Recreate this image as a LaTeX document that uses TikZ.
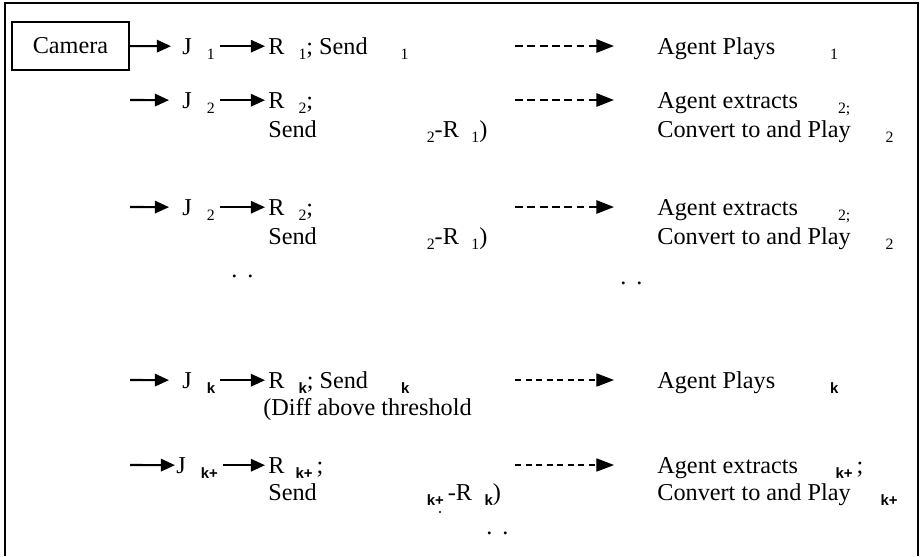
\documentclass[tikz,border=0pt]{standalone}
\usepackage{fontspec}
\setmainfont{Liberation Serif}
\setsansfont{Liberation Sans}
\usetikzlibrary{arrows.meta}
\newcommand{\lo}[1]{\raisebox{-0.45ex}{\fontsize{9}{9}\selectfont #1}}
\newcommand{\lok}[1]{\raisebox{-0.45ex}{\fontsize{8.5}{9}\sffamily\bfseries #1}}

\begin{document}
\begin{tikzpicture}[x=0.02cm, y=-0.02cm, font=\fontsize{13.8}{16}\selectfont]
   \tikzstyle{line} = [draw, line width=1.2pt, -{Triangle[length=8pt,width=7pt]}]
   \tikzstyle{dline} = [draw, line width=1.2pt, dash pattern=on 4.5pt off 2.5pt, -{Triangle[length=10pt,width=7.5pt]}]
   \tikzstyle{tline} = [draw, line width=0.6pt, dash pattern=on 3.5pt off 2.5pt, -{Triangle[length=10pt,width=7.5pt]}]
   \tikzstyle{txt} = [inner sep=0pt, anchor=base west, text height=0.312cm, text depth=0pt]
   \useasboundingbox (0,0) rectangle (922,556);
   \draw [line width=1.2pt] (5,556) -- (5,3) -- (918,3) -- (918,556);

   % first frame
   \node [draw, line width=1.2pt, minimum width=2.34cm, minimum height=0.96cm] (cam) at (70.5,46) {Camera};
   \node [txt] (j1) at (182,54) {J\hspace{0.3cm}\lo{1}};
   \node [txt] (r1) at (268,54) {R\hspace{0.28cm}\lo{1}; Send\hspace{0.66cm}\lo{1}};
   \node [txt] (ag1) at (657,54) {Agent Plays\hspace{1.1cm}\lo{1}};
   \coordinate (d1) at (515,46);

   % second frame
   \coordinate (s2) at (130,100);
   \node [txt] (j2) at (182,108) {J\hspace{0.3cm}\lo{2}};
   \node [txt] (r2) at (268,108) {R\hspace{0.28cm}\lo{2};};
   \node [txt] (r2b) at (268,137) {Send\hspace{2.2cm}\lo{2}-R\hspace{0.25cm}\lo{1})};
   \node [txt] (ag2) at (657,108) {Agent extracts\hspace{0.8cm}\lo{2;}};
   \node [txt] (ag2b) at (657,137) {Convert to and Play\hspace{0.7cm}\lo{2}};
   \coordinate (d2) at (515,100);

   % third frame
   \coordinate (s3) at (130,207);
   \node [txt] (j3) at (182,215) {J\hspace{0.3cm}\lo{2}};
   \node [txt] (r3) at (268,215) {R\hspace{0.28cm}\lo{2};};
   \node [txt] (r3b) at (268,244) {Send\hspace{2.2cm}\lo{2}-R\hspace{0.25cm}\lo{1})};
   \node [txt] (ag3) at (657,215) {Agent extracts\hspace{0.8cm}\lo{2;}};
   \node [txt] (ag3b) at (657,244) {Convert to and Play\hspace{0.7cm}\lo{2}};
   \coordinate (d3) at (515,207);
   \node [txt] (dots1) at (231,277) {.\hspace{0.2cm}.};
   \node [txt] (dots2) at (620,284) {.\hspace{0.2cm}.};

   % k-th frame
   \coordinate (s4) at (130,380);
   \node [txt] (j4) at (182,388) {J\hspace{0.3cm}\lok{k}};
   \node [txt] (r4) at (268,388) {R\hspace{0.28cm}\lok{k}; Send\hspace{0.66cm}\lok{k}};
   \node [txt] (r4b) at (263,415) {(Diff above threshold};
   \node [txt] (ag4) at (657,388) {Agent Plays\hspace{1.1cm}\lok{k}};
   \coordinate (d4) at (515,380);

   % (k+1)-th frame
   \coordinate (s5) at (130,465);
   \node [txt] (j5) at (176,473) {J\hspace{0.3cm}\lok{k+}};
   \node [txt] (r5) at (268,473) {R\hspace{0.22cm}\lok{k+}\,;};
   \node [txt] (r5b) at (268,500) {Send\hspace{2.2cm}\lok{k+}\,-R\hspace{0.25cm}\lok{k})};
   \node [txt] (ag5) at (657,473) {Agent extracts\hspace{0.75cm}\lok{k+}\,;};
   \node [txt] (ag5b) at (657,500) {Convert to and Play\hspace{0.6cm}\lok{k+}};
   \coordinate (d5) at (515,465);
   \fill (440,512) circle (0.6pt);
   \node [txt] (dots3) at (486,534) {.\hspace{0.2cm}.};

   \path [line, shorten >=0.22cm] (cam) -- (j1);
   \path [line, shorten <=0.1cm, shorten >=0.06cm] (j1) -- (r1);
   \path [dline, shorten >=0.86cm] (d1) -- (d1 -| ag1.west);

   \path [line, shorten >=0.26cm] (s2) -- (j2);
   \path [line, shorten <=0.1cm, shorten >=0.06cm] (j2) -- (r2);
   \path [dline, shorten >=0.86cm] (d2) -- (d2 -| ag2.west);

   \path [line, shorten >=0.26cm] (s3) -- (j3);
   \path [line, shorten <=0.1cm, shorten >=0.06cm] (j3) -- (r3);
   \path [dline, shorten >=0.86cm] (d3) -- (d3 -| ag3.west);

   \path [line, shorten >=0.26cm] (s4) -- (j4);
   \path [line, shorten <=0.1cm, shorten >=0.06cm] (j4) -- (r4);
   \path [tline, shorten >=0.86cm] (d4) -- (d4 -| ag4.west);

   \path [line, shorten >=0.02cm] (s5) -- (j5);
   \path [line, shorten <=0.1cm, shorten >=0.06cm] (j5) -- (r5);
   \path [tline, shorten >=0.86cm] (d5) -- (d5 -| ag5.west);
\end{tikzpicture}
\end{document}
